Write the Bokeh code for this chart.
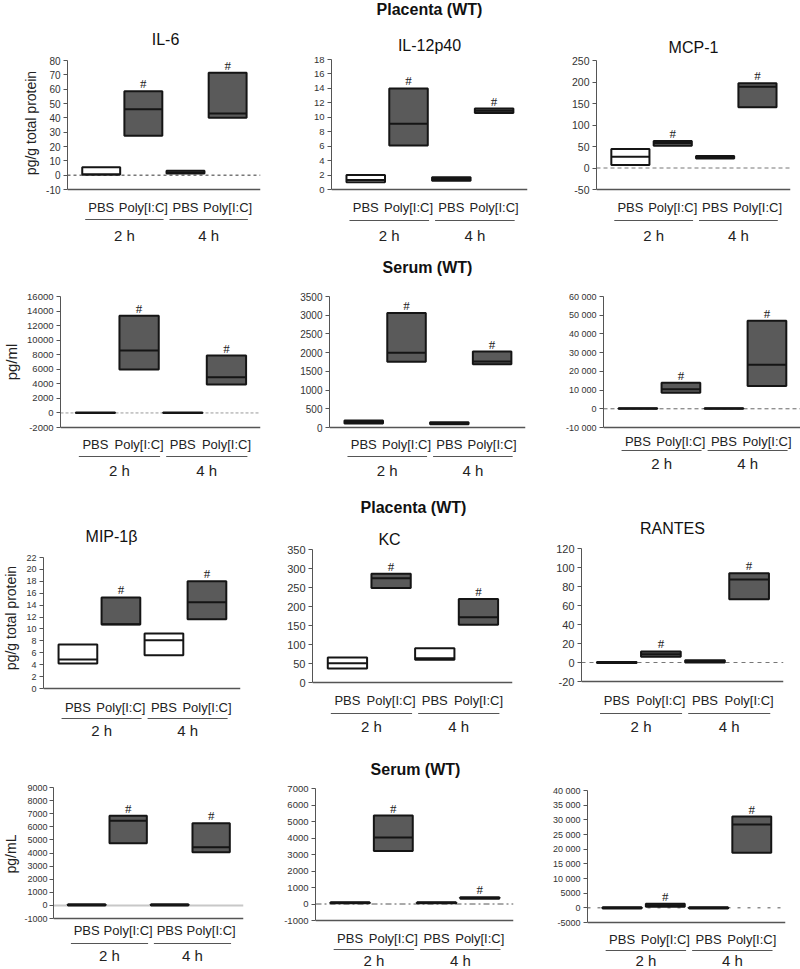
from bokeh.plotting import figure
from bokeh.layouts import column, row
from bokeh.models import Range1d, FixedTicker, Span
from bokeh.core.properties import value
from bokeh.embed import file_html
from bokeh.resources import INLINE

# ---------------- data ----------------
treatments = ["PBS", "Poly[I:C]", "PBS", "Poly[I:C]"]
groups = ["2 h", "4 h"]
group_members = [[0, 1], [2, 3]]
poly_flags = [False, True, False, True]

# Placenta (WT) - row 1
il6_low = [0.5, 27.5, 1.2, 40.0]
il6_med = [0.5, 46.0, 2.0, 43.0]
il6_high = [5.5, 58.5, 3.0, 71.5]
il6_ticks = [-10, 0, 10, 20, 30, 40, 50, 60, 70, 80]
il6_tick_labels = ["-10", "0", "10", "20", "30", "40", "50", "60", "70", "80"]

il12_low = [1.0, 6.1, 1.2, 10.6]
il12_med = [1.3, 9.1, 1.45, 10.9]
il12_high = [2.0, 14.0, 1.7, 11.2]
il12_ticks = [0, 2, 4, 6, 8, 10, 12, 14, 16, 18]
il12_tick_labels = ["0", "2", "4", "6", "8", "10", "12", "14", "16", "18"]

mcp1_low = [7.0, 52.0, 22.0, 141.0]
mcp1_med = [26.0, 58.0, 25.0, 189.0]
mcp1_high = [44.0, 63.0, 28.0, 197.0]
mcp1_ticks = [-50, 0, 50, 100, 150, 200, 250]
mcp1_tick_labels = ["-50", "0", "50", "100", "150", "200", "250"]

# Serum (WT) - row 2
s1_low = [0, 5970, 0, 3920]
s1_med = [0, 8570, 0, 4920]
s1_high = [60, 13350, 60, 7880]
s1_ticks = [-2000, 0, 2000, 4000, 6000, 8000, 10000, 12000, 14000, 16000]
s1_tick_labels = ["-2000", "0", "2000", "4000", "6000", "8000", "10000", "12000", "14000", "16000"]

s2_low = [110, 1754, 85, 1692]
s2_med = [150, 2000, 110, 1763]
s2_high = [190, 3056, 140, 2028]
s2_ticks = [0, 500, 1000, 1500, 2000, 2500, 3000, 3500]
s2_tick_labels = ["0", "500", "1000", "1500", "2000", "2500", "3000", "3500"]

s3_low = [0, 8610, 0, 12160]
s3_med = [100, 10380, 100, 23500]
s3_high = [300, 13930, 300, 47070]
s3_ticks = [-10000, 0, 10000, 20000, 30000, 40000, 50000, 60000]
s3_tick_labels = ["-10 000", "0", "10 000", "20 000", "30 000", "40 000", "50 000", "60 000"]

# Placenta (WT) - row 3
mip_low = [4.2, 10.75, 5.6, 11.65]
mip_med = [4.87, 10.8, 8.12, 14.5]
mip_high = [7.39, 15.29, 9.24, 18.03]
mip_ticks = [0, 2, 4, 6, 8, 10, 12, 14, 16, 18, 20, 22]
mip_tick_labels = ["0", "2", "4", "6", "8", "10", "12", "14", "16", "18", "20", "22"]

kc_low = [36.7, 248.5, 60.0, 152.0]
kc_med = [50.7, 274.5, 64.0, 171.5]
kc_high = [65.6, 286.0, 90.0, 219.6]
kc_ticks = [0, 50, 100, 150, 200, 250, 300, 350]
kc_tick_labels = ["0", "50", "100", "150", "200", "250", "300", "350"]

rantes_low = [-0.4, 6.0, 0.0, 66.7]
rantes_med = [0.0, 8.8, 1.0, 87.4]
rantes_high = [0.4, 11.6, 2.5, 94.0]
rantes_ticks = [-20, 0, 20, 40, 60, 80, 100, 120]
rantes_tick_labels = ["-20", "0", "20", "40", "60", "80", "100", "120"]

# Serum (WT) - row 4
t1_low = [0, 4747, 0, 4063]
t1_med = [30, 6468, 30, 4443]
t1_high = [80, 6848, 80, 6266]
t1_ticks = [-1000, 0, 1000, 2000, 3000, 4000, 5000, 6000, 7000, 8000, 9000]
t1_tick_labels = ["-1000", "0", "1000", "2000", "3000", "4000", "5000", "6000", "7000", "8000", "9000"]

t2_low = [40, 3213, 40, 320]
t2_med = [80, 4023, 80, 360]
t2_high = [110, 5360, 110, 410]
t2_ticks = [-1000, 0, 1000, 2000, 3000, 4000, 5000, 6000, 7000]
t2_tick_labels = ["-1000", "0", "1000", "2000", "3000", "4000", "5000", "6000", "7000"]

t3_low = [-200, 400, -200, 18800]
t3_med = [0, 900, 0, 28370]
t3_high = [200, 1400, 200, 31100]
t3_ticks = [-5000, 0, 5000, 10000, 15000, 20000, 25000, 30000, 35000, 40000]
t3_tick_labels = ["-5000", "0", "5000", "10 000", "15 000", "20 000", "25 000", "30 000", "35 000", "40 000"]

# ---------------- styling / layout ----------------
FONT = "Liberation Sans"
POLY_FILL = "#5a5a5a"
EDGE = "#151515"
XS, XE = -0.8, 3.78
HALF = 0.45

COLS = [(0, 270), (270, 263), (533, 267)]
# (row top, row height, frame top, frame bottom) in page pixels
ROWS = [(0, 245, 0, 245), (245, 233, 245, 478), (478, 260, 497, 738), (738, 231, 738, 969)]


def make_panel(cell, frame, data, ticks, tick_labels, lab_y, ul_y, grp_y,
               title=None, heading=None, ylabel=None, ylabel_size="14px",
               zero=None, tick_size="10px", tick_standoff=3, label_standoff=4):
    (cx0, cw), (ry0, rh, ft, fb) = cell
    FL, FR, pyt, pyb = frame
    lo, med, hi = data
    ymin, ymax = ticks[0], ticks[-1]
    d = (ymax - ymin) / (pyb - pyt)
    y_start = ymin - (fb - pyb) * d
    y_end = ymax + (pyt - ft) * d

    def ypix(py):
        return ymax - (py - pyt) * d

    def xpix(px):
        return XS + (px - FL) / (FR - FL) * (XE - XS)

    p = figure(width=cw, height=rh, x_range=Range1d(XS, XE), y_range=Range1d(y_start, y_end),
               output_backend="svg", toolbar_location=None, x_axis_type=None,
               min_border_left=int(FL - cx0), min_border_right=int(cx0 + cw - FR),
               min_border_top=int(ft - ry0), min_border_bottom=int(ry0 + rh - fb),
               outline_line_color=None,
               background_fill_color="white", border_fill_color="white")
    p.grid.visible = False

    ax = p.yaxis[0]
    ax.ticker = FixedTicker(ticks=ticks)
    ax.major_label_overrides = {t: l for t, l in zip(ticks, tick_labels)}
    ax.bounds = (ymin, ymax)
    ax.minor_tick_line_color = None
    ax.major_tick_out = 4
    ax.major_tick_in = 0
    ax.major_label_standoff = tick_standoff
    ax.major_label_text_font = FONT
    ax.major_label_text_font_size = tick_size
    ax.major_label_text_color = "#333333"
    ax.axis_line_color = "#555555"
    ax.major_tick_line_color = "#555555"
    if ylabel:
        ax.axis_label = ylabel
        ax.axis_label_text_font = FONT
        ax.axis_label_text_font_style = "normal"
        ax.axis_label_text_font_size = ylabel_size
        ax.axis_label_text_color = "#222222"
        ax.axis_label_standoff = label_standoff

    if zero is not None and ymin < 0:
        zc, zd, zw = zero
        p.add_layout(Span(location=0, dimension="width", line_color=zc, line_dash=zd,
                          line_width=zw, level="underlay"))
    p.add_layout(Span(location=ymin, dimension="width", line_color="#555555", line_width=1.5))

    xs = list(range(len(treatments)))
    p.quad(left=[x - HALF for x in xs], right=[x + HALF for x in xs], bottom=lo, top=hi,
           fill_color=[POLY_FILL if f else "white" for f in poly_flags],
           line_color=EDGE, line_width=2)
    p.segment(x0=[x - HALF for x in xs], x1=[x + HALF for x in xs], y0=med, y1=med,
              line_color=EDGE, line_width=2)

    px_ = [x for x, f in zip(xs, poly_flags) if f]
    py_ = [h for h, f in zip(hi, poly_flags) if f]
    p.text(x=px_, y=py_, text=["#"] * len(px_), text_font=value("Liberation Serif"),
           text_font_size="13px", text_align="center", text_baseline="bottom",
           text_color="#222222")

    p.text(x=xs, y=[ypix(lab_y)] * len(xs), text=treatments, text_font=value(FONT),
           text_font_size="13px", text_align="center", text_baseline="middle",
           text_color="#222222")

    centers = [sum(m) / len(m) + 0.05 for m in group_members]
    p.segment(x0=[c - 0.93 for c in centers], x1=[c + 0.93 for c in centers],
              y0=[ypix(ul_y)] * 2, y1=[ypix(ul_y)] * 2, line_color="#555555", line_width=1.2)
    p.text(x=centers, y=[ypix(grp_y)] * 2, text=groups, text_font=value(FONT),
           text_font_size="15px", text_align="center", text_baseline="middle",
           text_color="#222222")

    if title:
        t, tx, ty = title
        p.text(x=[xpix(tx)], y=[ypix(ty)], text=[t], text_font=value(FONT),
               text_font_size="16px", text_align="center", text_baseline="middle",
               text_color="#111111")
    if heading:
        t, tx, ty = heading
        p.text(x=[xpix(tx)], y=[ypix(ty)], text=[t], text_font=value(FONT),
               text_font_size="16px", text_font_style="bold", text_align="center",
               text_baseline="middle", text_color="#111111")
    return p


C1, C2, C3 = COLS
R1, R2, R3, R4 = ROWS

p1 = make_panel((C1, R1), (67, 260, 60, 189), (il6_low, il6_med, il6_high), il6_ticks, il6_tick_labels,
                207, 219, 235, title=("IL-6", 165, 39), ylabel="pg/g total protein",
                zero=("#333333", "3 3", 1), tick_size="10px")
p2 = make_panel((C2, R1), (331, 527, 59, 189), (il12_low, il12_med, il12_high), il12_ticks, il12_tick_labels,
                207, 220, 235, title=("IL-12p40", 429, 45), heading=("Placenta (WT)", 429, 9),
                tick_size="9.5px")
p3 = make_panel((C3, R1), (596, 790, 60, 189), (mcp1_low, mcp1_med, mcp1_high), mcp1_ticks, mcp1_tick_labels,
                207, 220, 235, title=("MCP-1", 693, 47), zero=("#777777", "4 3", 1), tick_size="10.5px")

p4 = make_panel((C1, R2), (60, 260, 296, 427), (s1_low, s1_med, s1_high), s1_ticks, s1_tick_labels,
                444, 456, 470, ylabel="pg/ml", ylabel_size="15px", zero=("#999999", "3 2", 1),
                tick_size="9.5px")
p5 = make_panel((C2, R2), (329, 525, 296, 427), (s2_low, s2_med, s2_high), s2_ticks, s2_tick_labels,
                444, 456, 470, heading=("Serum (WT)", 427, 267), tick_size="10px")
p6 = make_panel((C3, R2), (603, 800, 296, 427), (s3_low, s3_med, s3_high), s3_ticks, s3_tick_labels,
                441, 450, 463, zero=("#666666", "4 3", 1), tick_size="9px")

p7 = make_panel((C1, R3), (43, 240, 557, 688), (mip_low, mip_med, mip_high), mip_ticks, mip_tick_labels,
                707, 718, 730, title=("MIP-1β", 111, 536), ylabel="pg/g total protein",
                tick_size="9px")
p8 = make_panel((C2, R3), (312, 512, 549, 682), (kc_low, kc_med, kc_high), kc_ticks, kc_tick_labels,
                700, 713, 726, title=("KC", 389, 539), heading=("Placenta (WT)", 413, 507),
                tick_size="11px")
p9 = make_panel((C3, R3), (581, 783, 548, 681), (rantes_low, rantes_med, rantes_high), rantes_ticks,
                rantes_tick_labels, 700, 713, 726, title=("RANTES", 672, 528), zero=("#777777", "4 4", 1),
                tick_size="11px")

p10 = make_panel((C1, R4), (45, 243, 787, 918), (t1_low, t1_med, t1_high), t1_ticks, t1_tick_labels,
                 930, 943, 955, ylabel="pg/mL", zero=("#c8c8c8", "solid", 2), tick_size="9px",
                 tick_standoff=2, label_standoff=2)
p11 = make_panel((C2, R4), (315, 513, 788, 920), (t2_low, t2_med, t2_high), t2_ticks, t2_tick_labels,
                 938, 949, 960, heading=("Serum (WT)", 415, 769), zero=("#555555", "6 3 2 3", 1),
                 tick_size="9.5px")
p12 = make_panel((C3, R4), (587, 785, 790, 922), (t3_low, t3_med, t3_high), t3_ticks, t3_tick_labels,
                 939, 950, 960, zero=("#555555", "3 7", 1), tick_size="9px")

layout = column(row(p1, p2, p3), row(p4, p5, p6), row(p7, p8, p9), row(p10, p11, p12))

with open("out.html", "w") as f:
    f.write(file_html(layout, INLINE))
